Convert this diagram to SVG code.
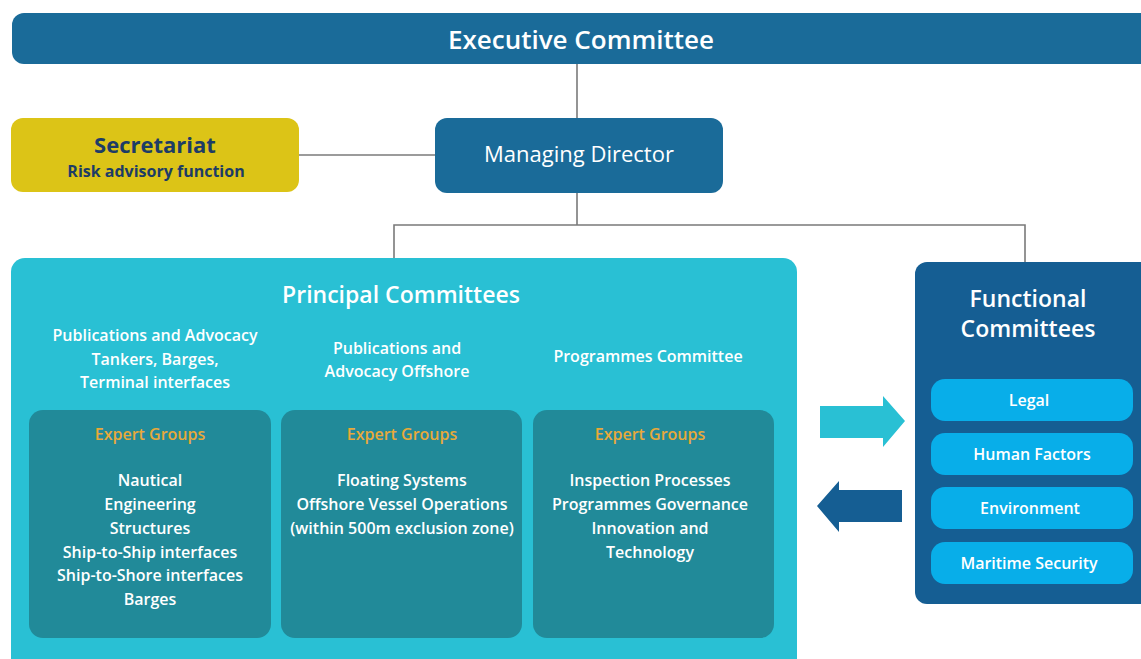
<svg xmlns="http://www.w3.org/2000/svg" width="1141" height="659" viewBox="0 0 1141 659">
<style>
text{font-family:"Open Sans","Noto Sans","DejaVu Sans",sans-serif;text-anchor:middle;fill:#fff}
.conn{stroke:#7a7a7a;stroke-width:1.6;fill:none}
.hd{font-size:23px;font-weight:600}
.sub{font-size:16px;font-weight:600}
.eg{font-size:16px;font-weight:600;fill:#e8a93a}
.pill{fill:#08aee9}
.egbox{fill:#218a99}
</style>
<rect width="1141" height="659" fill="#fff"/>
<g id="connectors">
<path class="conn" d="M577 64V118"/>
<path class="conn" d="M299 155H435"/>
<path class="conn" d="M577 193V225M394 258V225H1025V262"/>
<polygon points="820,406 883,406 883,396 905,421 883,447 883,438 820,438" fill="#29c0d4"/>
<polygon points="902,490 839,490 839,481 817,506 839,532 839,522 902,522" fill="#155e93"/>
</g>
<g id="executive">
<rect x="12" y="13" width="1150" height="51" rx="12" fill="#1a6b99"/>
<text x="581" y="49" style="font-size:26px;font-weight:600">Executive Committee</text>
</g>
<g id="secretariat">
<rect x="11" y="118" width="288" height="74" rx="12" fill="#dcc417"/>
<text x="155" y="153" style="font-size:22px;font-weight:700;fill:#1d3c66">Secretariat</text>
<text x="156" y="177" style="font-size:16px;font-weight:700;fill:#1d3c66">Risk advisory function</text>
</g>
<g id="managing-director">
<rect x="435" y="118" width="288" height="75" rx="12" fill="#1a6b99"/>
<text x="579" y="162" style="font-size:22px">Managing Director</text>
</g>
<g id="principal">
<rect x="11" y="258" width="786" height="420" rx="14" fill="#29c0d4"/>
<text x="401" y="303" class="hd">Principal Committees</text>
<text x="155" y="341" class="sub">Publications and Advocacy</text>
<text x="155" y="365" class="sub">Tankers, Barges,</text>
<text x="155" y="388" class="sub">Terminal interfaces</text>
<text x="397" y="354" class="sub">Publications and</text>
<text x="397" y="377" class="sub">Advocacy Offshore</text>
<text x="648" y="362" class="sub">Programmes Committee</text>
</g>
<g id="expert-1">
<rect class="egbox" x="29" y="410" width="242" height="228" rx="14"/>
<text x="150" y="440" class="eg">Expert Groups</text>
<text x="150" y="486" class="sub">Nautical</text>
<text x="150" y="510" class="sub">Engineering</text>
<text x="150" y="534" class="sub">Structures</text>
<text x="150" y="558" class="sub">Ship-to-Ship interfaces</text>
<text x="150" y="581" class="sub">Ship-to-Shore interfaces</text>
<text x="150" y="605" class="sub">Barges</text>
</g>
<g id="expert-2">
<rect class="egbox" x="281" y="410" width="241" height="228" rx="14"/>
<text x="402" y="440" class="eg">Expert Groups</text>
<text x="402" y="486" class="sub">Floating Systems</text>
<text x="402" y="510" class="sub">Offshore Vessel Operations</text>
<text x="402" y="534" class="sub">(within 500m exclusion zone)</text>
</g>
<g id="expert-3">
<rect class="egbox" x="533" y="410" width="241" height="228" rx="14"/>
<text x="650" y="440" class="eg">Expert Groups</text>
<text x="650" y="486" class="sub">Inspection Processes</text>
<text x="650" y="510" class="sub">Programmes Governance</text>
<text x="650" y="534" class="sub">Innovation and</text>
<text x="650" y="558" class="sub">Technology</text>
</g>
<g id="functional">
<rect x="915" y="262" width="240" height="342" rx="12" fill="#155e93"/>
<text x="1028" y="307" class="hd">Functional</text>
<text x="1028" y="337" class="hd">Committees</text>
</g>
<g id="legal">
<rect class="pill" x="931" y="379" width="202" height="42" rx="14"/>
<text x="1029" y="406" class="sub">Legal</text>
</g>
<g id="human-factors">
<rect class="pill" x="931" y="433" width="202" height="42" rx="14"/>
<text x="1032" y="460" class="sub">Human Factors</text>
</g>
<g id="environment">
<rect class="pill" x="931" y="487" width="202" height="42" rx="14"/>
<text x="1030" y="514" class="sub">Environment</text>
</g>
<g id="maritime-security">
<rect class="pill" x="931" y="542" width="202" height="42" rx="14"/>
<text x="1029" y="569" class="sub">Maritime Security</text>
</g>
</svg>
